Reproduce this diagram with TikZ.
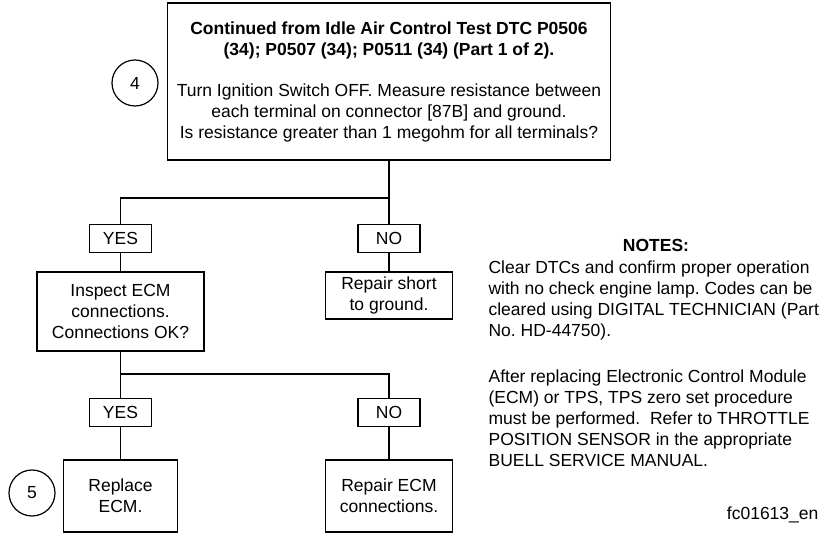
\documentclass[tikz,border=0pt]{standalone}
\usepackage{fontspec}
\setmainfont{Liberation Sans}
\usetikzlibrary{positioning}
\frenchspacing

\begin{document}
\begin{tikzpicture}[x=1pt,y=-1pt,line width=1.2pt,
  every node/.style={font=\fontsize{17.5}{21}\selectfont},
  box/.style={draw,align=center,inner sep=0pt},
  tag/.style={draw,minimum width=62pt,minimum height=28pt,inner sep=0pt},
  numcircle/.style={draw,circle,minimum size=46pt,inner sep=0pt}]
\useasboundingbox (0,0) rectangle (823,534);
% question box
\node[box,minimum width=443pt,minimum height=157pt] (top) at (389,81.5) {\textbf{Continued from Idle Air Control Test DTC P0506}\\\textbf{(34); P0507 (34); P0511 (34) (Part 1 of 2).}\\[20pt]Turn Ignition Switch OFF. Measure resistance between\\each terminal on connector [87B] and ground.\\Is resistance greater than 1 megohm for all terminals?};
\node[numcircle] (c4) at (135,83) {4};
% first answer
\node[tag] (yes1) at (120.5,238.5) {YES};
\node[tag] (no1) at (389,238.5) {NO};
\node[box,minimum width=167pt,minimum height=79pt] (inspect) at (120.5,311.5) {Inspect ECM\\connections.\\Connections OK?};
\node[box,minimum width=127pt,minimum height=47pt] (repair1) at (389,295.5) {Repair short\\to ground.};
% second answer
\node[tag] (yes2) at (120.5,412.5) {YES};
\node[tag] (no2) at (389,412.5) {NO};
\node[box,minimum width=114pt,minimum height=72pt] (replace) at (120.5,496) {Replace\\ECM.};
\node[box,minimum width=127pt,minimum height=72pt] (repair2) at (389,496) {Repair ECM\\connections.};
\node[numcircle] (c5) at (32,493) {5};
% connectors
\coordinate (split1) at (389,198);
\coordinate (split2) at (120.5,374);
\draw (top.south) -- (split1) -| (yes1.north);
\draw (split1) -- (no1.north);
\draw (yes1.south) -- (inspect.north);
\draw (no1.south) -- (repair1.north);
\draw (inspect.south) -- (split2) -| (no2.north);
\draw (split2) -- (yes2.north);
\draw (yes2.south) -- (replace.north);
\draw (no2.south) -- (repair2.north);
% notes
\node[font=\fontsize{17.5}{21}\selectfont\bfseries] (notehead) at (656,245) {NOTES:};
\node[anchor=north west,inner sep=0pt,align=left] (notes) at (488,260) {Clear DTCs and confirm proper operation\\with no check engine lamp. Codes can be\\cleared using DIGITAL TECHNICIAN (Part\\No. HD-44750).\\[25pt]After replacing Electronic Control Module\\(ECM) or TPS, TPS zero set procedure\\must be performed.\ \ Refer to THROTTLE\\POSITION SENSOR in the appropriate\\BUELL SERVICE MANUAL.};
\node[anchor=east,inner sep=0pt] (code) at (819,515) {fc01613\_en};
\end{tikzpicture}
\end{document}
